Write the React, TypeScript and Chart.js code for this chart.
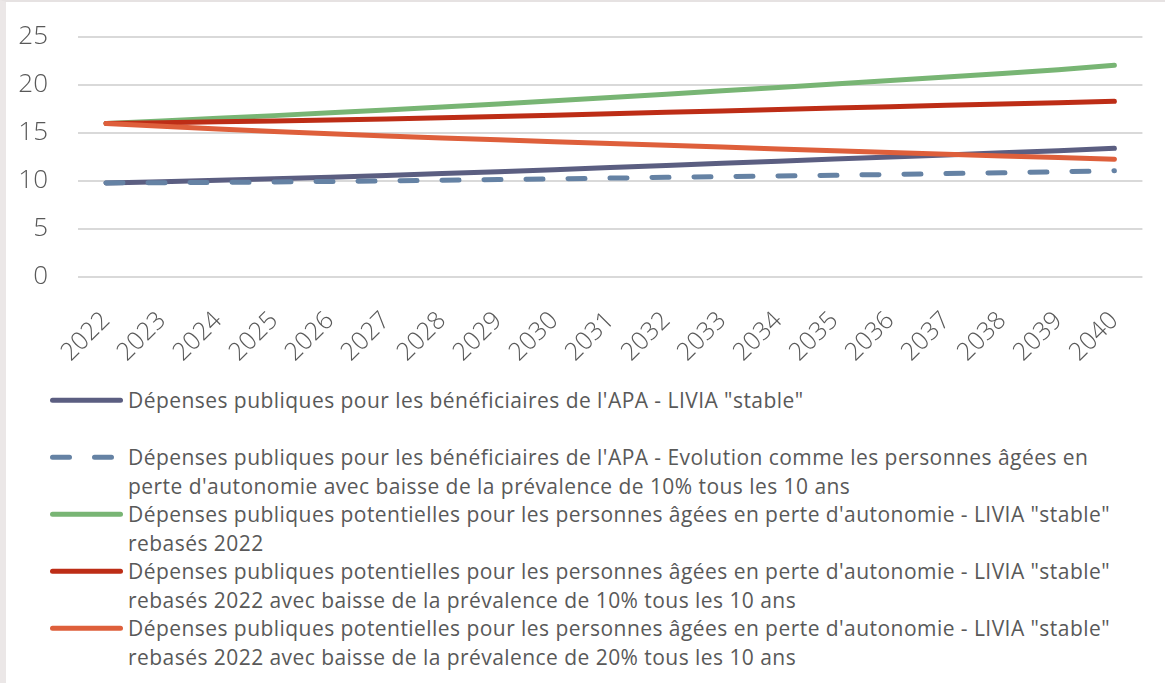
import React, { useEffect, useRef } from 'react';
import { Chart, registerables } from 'chart.js';

Chart.register(...registerables);

// ---------- data ----------
const years = [
  '2022', '2023', '2024', '2025', '2026', '2027', '2028', '2029', '2030', '2031',
  '2032', '2033', '2034', '2035', '2036', '2037', '2038', '2039', '2040',
];

const apaStable = [
  9.8, 9.93, 10.08, 10.23, 10.4, 10.58, 10.77, 10.97, 11.18, 11.4,
  11.62, 11.84, 12.06, 12.28, 12.5, 12.72, 12.94, 13.16, 13.4,
];
const apaPrevalence10 = [
  9.8, 9.82, 9.85, 9.9, 9.95, 10.0, 10.08, 10.15, 10.22, 10.3,
  10.38, 10.45, 10.52, 10.6, 10.68, 10.77, 10.86, 10.96, 11.07,
];
const potentialStable = [
  16.0, 16.26, 16.53, 16.81, 17.1, 17.4, 17.71, 18.03, 18.36, 18.7,
  19.04, 19.39, 19.74, 20.1, 20.46, 20.83, 21.2, 21.58, 22.05,
];
const potentialPrevalence10 = [
  16.0, 16.08, 16.17, 16.26, 16.36, 16.47, 16.59, 16.72, 16.86, 17.0,
  17.15, 17.3, 17.45, 17.6, 17.74, 17.88, 18.02, 18.16, 18.3,
];
const potentialPrevalence20 = [
  16.0, 15.7, 15.42, 15.16, 14.92, 14.7, 14.49, 14.29, 14.1, 13.91,
  13.72, 13.53, 13.34, 13.15, 12.97, 12.79, 12.61, 12.44, 12.26,
];

const labelApaStable = [
  'Dépenses publiques pour les bénéficiaires de l\'APA - LIVIA "stable"',
];
const labelApaPrevalence10 = [
  "Dépenses publiques pour les bénéficiaires de l'APA - Evolution comme les personnes âgées en",
  "perte d'autonomie avec baisse de la prévalence de 10% tous les 10 ans",
];
const labelPotentialStable = [
  'Dépenses publiques potentielles pour les personnes âgées en perte d\'autonomie - LIVIA "stable"',
  'rebasés 2022',
];
const labelPotentialPrevalence10 = [
  'Dépenses publiques potentielles pour les personnes âgées en perte d\'autonomie - LIVIA "stable"',
  'rebasés 2022 avec baisse de la prévalence de 10% tous les 10 ans',
];
const labelPotentialPrevalence20 = [
  'Dépenses publiques potentielles pour les personnes âgées en perte d\'autonomie - LIVIA "stable"',
  'rebasés 2022 avec baisse de la prévalence de 20% tous les 10 ans',
];

const yMin = 0;
const yMax = 25;
const yStep = 5;

// ---------- styles ----------
const FONT = '"Open Sans", Lato, sans-serif';
const TEXT = '#595959';

const series = [
  { lines: labelApaStable, data: apaStable, color: '#5b5e81', dash: [] as number[] },
  { lines: labelApaPrevalence10, data: apaPrevalence10, color: '#6582a4', dash: [17, 25] },
  { lines: labelPotentialStable, data: potentialStable, color: '#78b574', dash: [] as number[] },
  { lines: labelPotentialPrevalence10, data: potentialPrevalence10, color: '#bd2d16', dash: [] as number[] },
  { lines: labelPotentialPrevalence20, data: potentialPrevalence20, color: '#de5f3b', dash: [] as number[] },
];

export default function App() {
  const canvasRef = useRef<HTMLCanvasElement | null>(null);

  useEffect(() => {
    document.body.style.margin = '0';
    const canvas = canvasRef.current;
    if (!canvas) return;
    const chart = new Chart(canvas, {
      type: 'line',
      data: {
        labels: years,
        datasets: series.map((s, i) => ({
          label: s.lines.join(' '),
          data: s.data,
          borderColor: s.color,
          backgroundColor: s.color,
          borderWidth: 5,
          borderDash: s.dash,
          borderCapStyle: 'round' as const,
          borderJoinStyle: 'round' as const,
          pointRadius: 0,
          pointHoverRadius: 0,
          fill: false,
          tension: 0,
          order: series.length - i,
        })),
      },
      options: {
        animation: false,
        responsive: false,
        maintainAspectRatio: false,
        layout: { padding: { top: 35, right: 14, left: 0, bottom: 0 } },
        plugins: {
          legend: { display: false },
          tooltip: { enabled: false },
          title: { display: false },
        },
        scales: {
          x: {
            offset: true,
            grid: { display: false, drawTicks: false },
            border: { display: false },
            ticks: {
              color: TEXT,
              font: { family: FONT, size: 25, weight: 300 },
              minRotation: 45,
              maxRotation: 45,
              padding: 29,
              autoSkip: false,
            },
            afterFit: (scale: any) => {
              scale.height = 101;
            },
          },
          y: {
            min: yMin,
            max: yMax,
            grid: { color: '#d9d9d9', lineWidth: 2, drawTicks: false },
            border: { display: false },
            ticks: {
              stepSize: yStep,
              color: TEXT,
              font: { family: FONT, size: 26, weight: 300 },
              padding: 30,
            },
            afterFit: (scale: any) => {
              scale.width = 72;
              scale.paddingTop = 0;
              scale.paddingBottom = 0;
            },
          },
        },
      },
    });
    return () => chart.destroy();
  }, []);

  return (
    <div
      style={{
        position: 'relative',
        width: 1165,
        height: 683,
        boxSizing: 'border-box',
        borderLeft: '6px solid #ebe7e7',
        borderTop: '2px solid #e6e2e2',
        background: '#ffffff',
        overflow: 'hidden',
        fontFamily: FONT,
      }}
    >
      <canvas ref={canvasRef} width={1159} height={376} style={{ display: 'block' }} />
      <div style={{ position: 'absolute', left: 44, top: 384, width: 1110 }}>
        {series.map((s, i) => (
          <div key={i} style={{ display: 'flex', alignItems: 'flex-start', height: 57 }}>
            <svg width={73} height={28.5} style={{ flex: '0 0 auto', display: 'block' }}>
              <line
                x1={2.5}
                y1={14.25}
                x2={70.5}
                y2={14.25}
                stroke={s.color}
                strokeWidth={5}
                strokeLinecap="round"
                strokeDasharray={s.dash.length ? '17 25' : undefined}
              />
            </svg>
            <div
              style={{
                marginLeft: 5,
                color: TEXT,
                fontSize: 21,
                fontWeight: 400,
                letterSpacing: '0.45px',
                lineHeight: '28.5px',
                whiteSpace: 'nowrap',
              }}
            >
              {s.lines.map((ln, j) => (
                <div key={j}>{ln}</div>
              ))}
            </div>
          </div>
        ))}
      </div>
    </div>
  );
}
